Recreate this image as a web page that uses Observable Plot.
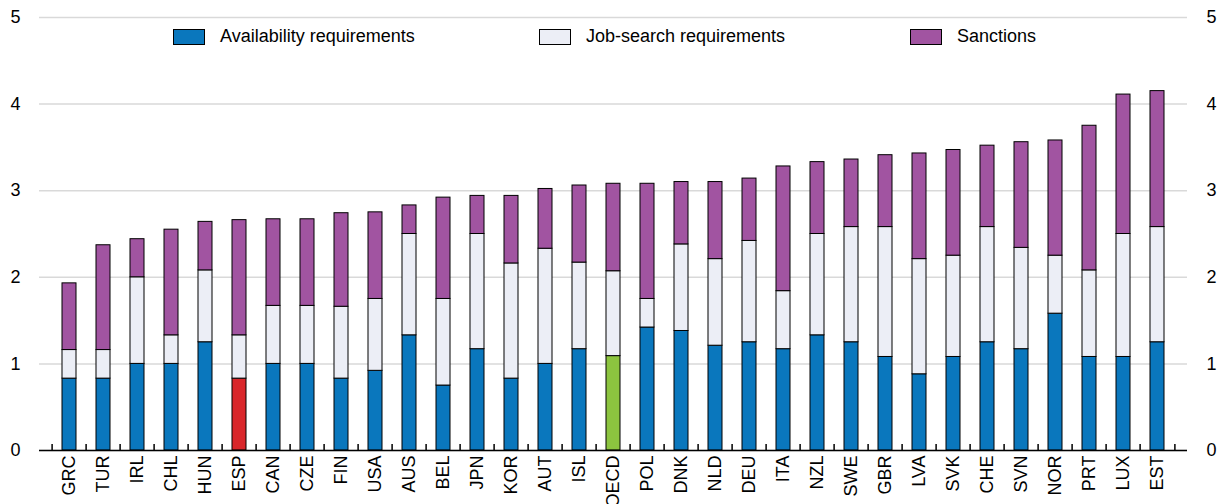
<!DOCTYPE html>
<html>
<head>
<meta charset="utf-8">
<script src="https://cdn.jsdelivr.net/npm/d3@7"></script>
<script src="https://cdn.jsdelivr.net/npm/@observablehq/plot@0.6"></script>
<style>
  html, body { margin: 0; padding: 0; background: #fff; }
  #wrap { position: relative; width: 1220px; height: 504px; font-family: "Liberation Sans Narrow", "Arial Narrow", "Liberation Sans", Arial, sans-serif; }
  .legend { position: absolute; top: 26px; left: 0; width: 1220px; height: 24px; font-size: 18px; color: #000; }
  .item { position: absolute; top: 0; display: flex; align-items: center; white-space: nowrap; }
  .sw { width: 30px; height: 14px; border: 1px solid #000; margin-right: 15px; }
</style>
</head>
<body>
<div id="wrap"></div>
<script>
const countries = ["GRC","TUR","IRL","CHL","HUN","ESP","CAN","CZE","FIN","USA","AUS","BEL","JPN","KOR","AUT","ISL","OECD","POL","DNK","NLD","DEU","ITA","NZL","SWE","GBR","LVA","SVK","CHE","SVN","NOR","PRT","LUX","EST"];
const availability = [0.83,0.83,1.00,1.00,1.25,0.83,1.00,1.00,0.83,0.92,1.33,0.75,1.17,0.83,1.00,1.17,1.09,1.42,1.38,1.21,1.25,1.17,1.33,1.25,1.08,0.88,1.08,1.25,1.17,1.58,1.08,1.08,1.25];
const jobSearch    = [0.33,0.33,1.00,0.33,0.83,0.50,0.67,0.67,0.83,0.83,1.17,1.00,1.33,1.33,1.33,1.00,0.98,0.33,1.00,1.00,1.17,0.67,1.17,1.33,1.50,1.33,1.17,1.33,1.17,0.67,1.00,1.42,1.33];
const sanctions    = [0.77,1.21,0.44,1.22,0.56,1.33,1.00,1.00,1.08,1.00,0.33,1.17,0.44,0.78,0.69,0.89,1.01,1.33,0.72,0.89,0.72,1.44,0.83,0.78,0.83,1.22,1.22,0.94,1.22,1.33,1.67,1.61,1.57];
const seriesNames = ["Availability requirements","Job-search requirements","Sanctions"];
const yTicks = [0,1,2,3,4,5];

const colors = {
  "Availability requirements": "#0a77bd",
  "Job-search requirements": "#eceef6",
  "Sanctions": "#a154a1"
};
const highlight = { "ESP": "#d9262a", "OECD": "#8cc43f" };

const rows = [];
countries.forEach((c, i) => {
  [availability, jobSearch, sanctions].forEach((arr, k) => {
    const s = seriesNames[k];
    rows.push({
      country: c,
      series: s,
      value: arr[i],
      color: (k === 0 && highlight[c]) ? highlight[c] : colors[s]
    });
  });
});

const W = 1220, H = 504;
const mL = 39, mR = 33, mT = 17, mB = 54;
const step = (W - mL - mR) / countries.length;
const font = '"Liberation Sans Narrow", "Arial Narrow", "Liberation Sans", Arial, sans-serif';

const chart = Plot.plot({
  width: W,
  height: H,
  marginLeft: mL,
  marginRight: mR,
  marginTop: mT,
  marginBottom: mB,
  style: { fontFamily: font, fontSize: "18px", color: "#000", background: "#fff" },
  x: { domain: countries, paddingInner: 0.6, paddingOuter: 0.3, label: null },
  y: { domain: [0, 5], label: null },
  color: { type: "identity" },
  marks: [
    Plot.ruleY(yTicks, { stroke: "#d9d9d9", strokeWidth: 1.5 }),
    Plot.barY(rows, Plot.stackY({
      x: "country",
      y: "value",
      z: "series",
      fill: "color",
      stroke: "#000",
      strokeWidth: 1
    })),
    Plot.ruleY([0], { stroke: "#000", strokeWidth: 1.5 }),
    Plot.ruleX(countries, { x: d => d, y1: 0, y2: 0, dx: -step / 2, insetTop: -6, stroke: "#000", strokeWidth: 1.5 }),
    Plot.ruleX(countries.slice(-1), { x: d => d, y1: 0, y2: 0, dx: step / 2, insetTop: -6, stroke: "#000", strokeWidth: 1.5 }),
    Plot.axisY({ anchor: "left", ticks: yTicks, tickFormat: d3.format("d"), tickSize: 0, tickPadding: 19, textAnchor: "middle", dx: -5, fontSize: 18 }),
    Plot.axisY({ anchor: "right", ticks: yTicks, tickFormat: d3.format("d"), tickSize: 0, tickPadding: 19, fontSize: 18 }),
    Plot.axisX({ tickSize: 0, tickRotate: -90, tickPadding: 5, fontSize: 18 })
  ]
});

const wrap = document.getElementById("wrap");
wrap.appendChild(chart);

const legend = document.createElement("div");
legend.className = "legend";
const lefts = [173, 539, 910];
seriesNames.forEach((s, k) => {
  const it = document.createElement("div");
  it.className = "item";
  it.style.left = lefts[k] + "px";
  const sw = document.createElement("div");
  sw.className = "sw";
  sw.style.background = colors[s];
  const t = document.createElement("span");
  t.textContent = s;
  it.appendChild(sw);
  it.appendChild(t);
  legend.appendChild(it);
});
wrap.appendChild(legend);
</script>
</body>
</html>
